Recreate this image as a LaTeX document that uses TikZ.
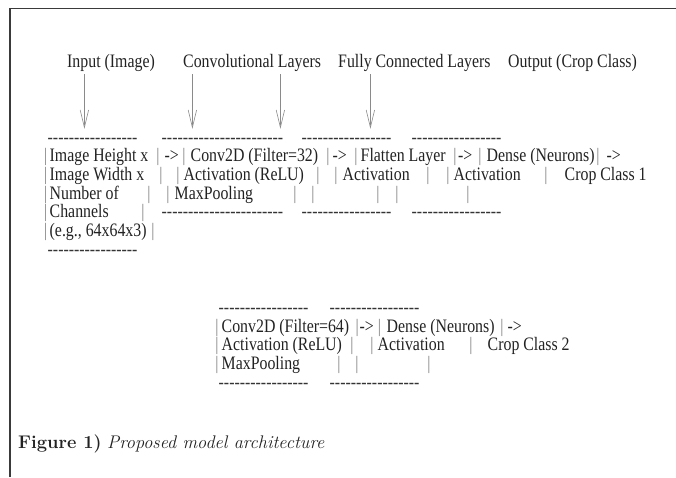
\documentclass[tikz,border=0pt]{standalone}
\usepackage{fontspec}
\newfontfamily\tnr[FakeStretch=0.835]{Liberation Serif}
\definecolor{ink}{HTML}{222222}
\definecolor{pipec}{HTML}{808080}
\definecolor{dashc}{HTML}{333333}
\definecolor{arrowc}{HTML}{8A8A8A}
\definecolor{framec}{HTML}{3A3A3A}
\newcommand\hyph[1]{\foreach\k in {1,...,#1}{-\kern0pt}}
\begin{document}
\begin{tikzpicture}[x=1pt,y=-1pt,
  txt/.style={anchor=base west,inner sep=0pt,font=\tnr\fontsize{19}{19}\selectfont,text=ink},
  pipe/.style={anchor=base,inner sep=0pt,font=\tnr\fontsize{19}{19}\selectfont,text=pipec},
  dashrow/.style={txt,text=dashc},
  arr/.style={draw=arrowc,line width=0.6pt}]
\useasboundingbox (0,0) rectangle (676,477);
% frame
\draw[framec,line width=1.8pt] (10,477) -- (10,8.5) -- (676,8.5);
% headers
\node[txt] (hin) at (67,67) {Input (Image)};
\node[txt] (hconv) at (183,67) {Convolutional Layers};
\node[txt] (hfc) at (338,67) {Fully Connected Layers};
\node[txt] (hout) at (508,67) {Output (Crop Class)};
% arrows
\foreach \x [count=\i] in {84,192,280,370}{
  \coordinate (atop\i) at (\x,74);
  \coordinate (abot\i) at (\x,125);
  \coordinate (vl\i) at (\x-3.8,110);
  \coordinate (vr\i) at (\x+4.6,110);
  \coordinate (vtip\i) at (\x+0.4,127.5);
  \draw[arr] (atop\i) -- (abot\i);
  \draw[arr] (vl\i) -- (vtip\i) -- (vr\i);
}
% ---- upper diagram ----
% row 0 dashes
\node[dashrow] (d01) at (47.5,143) {\hyph{17}};
\node[dashrow] (d02) at (161.5,143) {\hyph{23}};
\node[dashrow] (d03) at (301.5,143) {\hyph{17}};
\node[dashrow] (d04) at (411.5,143) {\hyph{17}};
% row 1
\node[txt] (t11) at (49.5,161.7) {Image Height x};
\node[txt] (t12) at (164.5,161.7) {->};
\node[txt] (t13) at (190.5,161.7) {Conv2D (Filter=32)};
\node[txt] (t14) at (332.5,161.7) {->};
\node[txt] (t15) at (360.5,161.7) {Flatten Layer};
\node[txt] (t16) at (458,161.7) {->};
\node[txt] (t17) at (486.5,161.7) {Dense (Neurons)};
\node[txt] (t18) at (606.5,161.7) {->};
% row 2
\node[txt] (t21) at (49.5,180.4) {Image Width x};
\node[txt] (t22) at (183.5,180.4) {Activation (ReLU)};
\node[txt] (t23) at (342.5,180.4) {Activation};
\node[txt] (t24) at (453.5,180.4) {Activation};
\node[txt] (t25) at (564.5,180.4) {Crop Class 1};
% row 3
\node[txt] (t31) at (49.5,199.1) {Number of};
\node[txt] (t32) at (174.5,199.1) {MaxPooling};
% row 4
\node[txt] (t41) at (49.5,217.8) {Channels};
\node[dashrow] (d42) at (161.5,217.8) {\hyph{23}};
\node[dashrow] (d43) at (301.5,217.8) {\hyph{17}};
\node[dashrow] (d44) at (411.5,217.8) {\hyph{17}};
% row 5
\node[txt] (t51) at (49.5,236.5) {(e.g., 64x64x3)};
% row 6
\node[dashrow] (d61) at (47.5,255.2) {\hyph{17}};
% pipes upper
\foreach \x/\y [count=\i] in {45.7/161.7,158/161.7,184/161.7,328/161.7,356/161.7,455/161.7,480/161.7,598/161.7,
  45.7/180.4,161/180.4,178/180.4,318/180.4,336/180.4,428/180.4,448/180.4,546/180.4,
  45.7/199.1,149/199.1,168/199.1,295/199.1,313/199.1,378/199.1,397/199.1,468/199.1,
  45.7/217.8,143/217.8,45.7/236.5,153/236.5}{
  \node[pipe] (pu\i) at (\x,\y) {|};
}
% ---- lower diagram ----
\node[dashrow] (e01) at (218.5,313.5) {\hyph{17}};
\node[dashrow] (e02) at (329.5,313.5) {\hyph{17}};
\node[txt] (u11) at (221.5,332.2) {Conv2D (Filter=64)};
\node[txt] (u12) at (359.5,332.2) {->};
\node[txt] (u13) at (386.5,332.2) {Dense (Neurons)};
\node[txt] (u14) at (507.5,332.2) {->};
\node[txt] (u21) at (221.5,350.9) {Activation (ReLU)};
\node[txt] (u22) at (377.5,350.9) {Activation};
\node[txt] (u23) at (487.5,350.9) {Crop Class 2};
\node[txt] (u31) at (221.5,369.6) {MaxPooling};
\node[dashrow] (e41) at (218.5,388.3) {\hyph{17}};
\node[dashrow] (e42) at (329.5,388.3) {\hyph{17}};
\foreach \x/\y [count=\i] in {217/332.2,357.2/332.2,379.5/332.2,502/332.2,
  217/350.9,352/350.9,372/350.9,471/350.9,
  217/369.6,339/369.6,357/369.6,429/369.6}{
  \node[pipe] (pl\i) at (\x,\y) {|};
}
% caption
\node[anchor=base west,inner sep=0pt,font=\fontsize{18.3}{18.3}\selectfont,text=ink] (cap) at (18,448)
  {\textbf{Figure 1)} \textit{Proposed model architecture}};
\end{tikzpicture}
\end{document}
